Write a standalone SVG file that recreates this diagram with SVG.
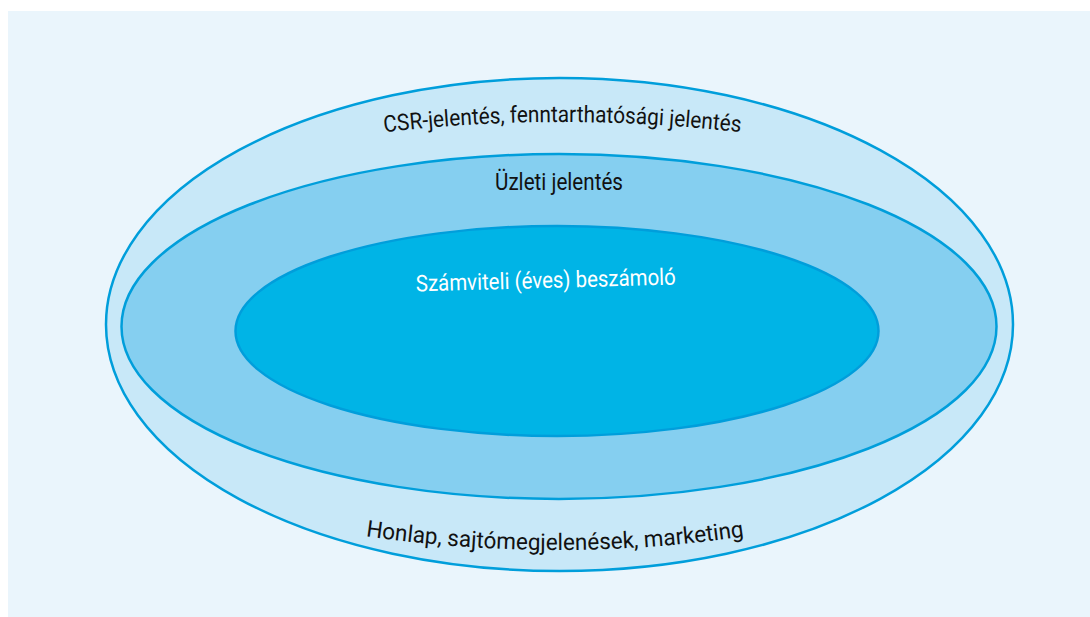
<svg xmlns="http://www.w3.org/2000/svg" width="1090" height="617" viewBox="0 0 1090 617">
<defs>
<style>
.ring{stroke:#009EDB;stroke-width:2.5}
.lbl{font-family:Roboto,"Liberation Sans",sans-serif;font-size:23px;fill:#111}
.w{fill:#fff}
</style>
<path id="arcTop" d="M370,134 Q560,110 755,134"/>
<path id="arcBot" d="M350,534 Q560,566 760,534"/>
</defs>
<rect x="0" y="0" width="1090" height="617" fill="#fff"/>
<rect x="8" y="11" width="1082" height="606" fill="#EAF5FC"/>
<g id="outer">
<ellipse class="ring" cx="559.5" cy="324.5" rx="453.5" ry="246.5" fill="#C8E8F8"/>
<text class="lbl"><textPath href="#arcTop" startOffset="50%" text-anchor="middle" textLength="357" lengthAdjust="spacingAndGlyphs">CSR-jelentés, fenntarthatósági jelentés</textPath></text>
<text class="lbl"><textPath href="#arcBot" startOffset="50%" text-anchor="middle" textLength="380" lengthAdjust="spacingAndGlyphs">Honlap, sajtómegjelenések, marketing</textPath></text>
</g>
<g id="middle">
<ellipse class="ring" cx="559" cy="326.5" rx="437.5" ry="172.5" fill="#85CFF0"/>
<text class="lbl" x="559" y="190" text-anchor="middle" textLength="128" lengthAdjust="spacingAndGlyphs">Üzleti jelentés</text>
</g>
<g id="inner">
<ellipse class="ring" cx="557" cy="331" rx="321.5" ry="105" fill="#00B4E6"/>
<text class="lbl w" x="546" y="288" text-anchor="middle" textLength="260" lengthAdjust="spacingAndGlyphs" transform="rotate(-1.5 546 288)">Számviteli (éves) beszámoló</text>
</g>
<g id="connectors"/>
</svg>
